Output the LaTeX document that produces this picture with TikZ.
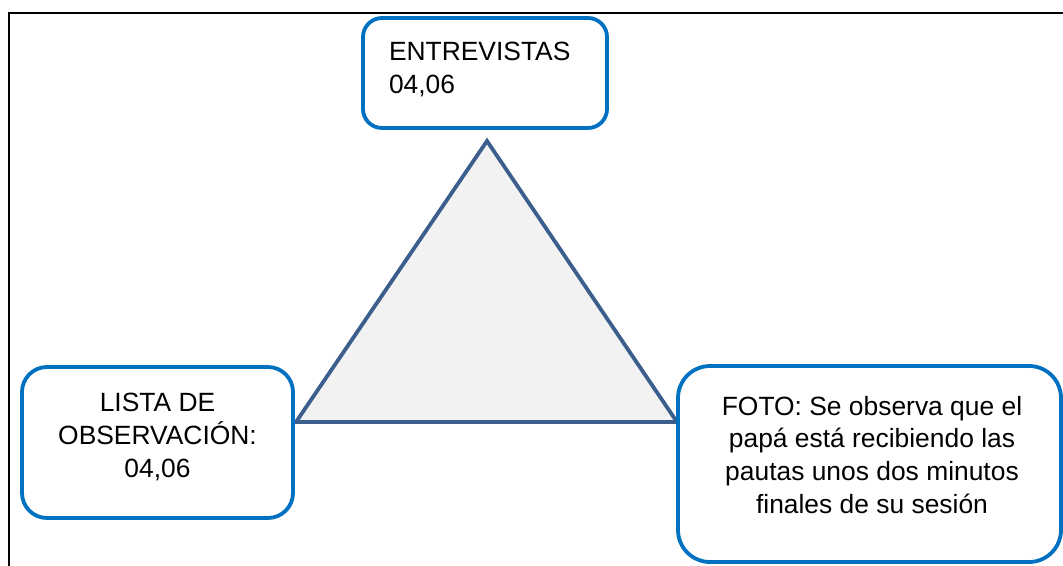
\documentclass[tikz,border=0pt]{standalone}
\usepackage{fontspec}
\setmainfont{Liberation Sans}
\definecolor{boxblue}{HTML}{0070C0}
\definecolor{triline}{HTML}{3B5E8C}
\definecolor{trifill}{HTML}{F2F2F2}
\begin{document}
\begin{tikzpicture}[x=1pt,y=-1pt,
  box/.style={draw=boxblue, line width=3.8pt, fill=white, rectangle, rounded corners=#1, inner sep=0pt, outer sep=0pt},
  txt/.style={inner sep=0pt, outer sep=0pt, font=\fontsize{26.4}{32.6}\selectfont},
  tri/.style={draw=triline, fill=trifill, line width=3.8pt, line join=miter}]
\useasboundingbox (0,0) rectangle (1063,565);
% frame
\draw[line width=2.4pt, black] (9,566) |- (1064,13);
% triangle
\coordinate (apex) at (487,141);
\coordinate (bl) at (296,422);
\coordinate (br) at (677,422);
\draw[tri] (apex) -- (bl) -- (br) -- cycle;
% boxes
\node[box=19pt, minimum width=244pt, minimum height=110pt] (entrev) at (485,73) {};
\node[box=25pt, minimum width=271pt, minimum height=151pt] (lista) at (157.5,442.5) {};
\node[box=32pt, minimum width=383pt, minimum height=196pt] (foto) at (869.5,464) {};
% texts
\node[txt, anchor=base west, align=left] (entrevtxt) at (389,93) {ENTREVISTAS\\04,06};
\node[txt, anchor=base, align=center] (listatxt) at (157.5,477) {LISTA DE\\OBSERVACIÓN:\\04,06};
\node[txt, anchor=base, align=center] (fototxt) at (872,513) {FOTO: Se observa que el\\papá está recibiendo las\\pautas unos dos minutos\\finales de su sesión};
\end{tikzpicture}
\end{document}
